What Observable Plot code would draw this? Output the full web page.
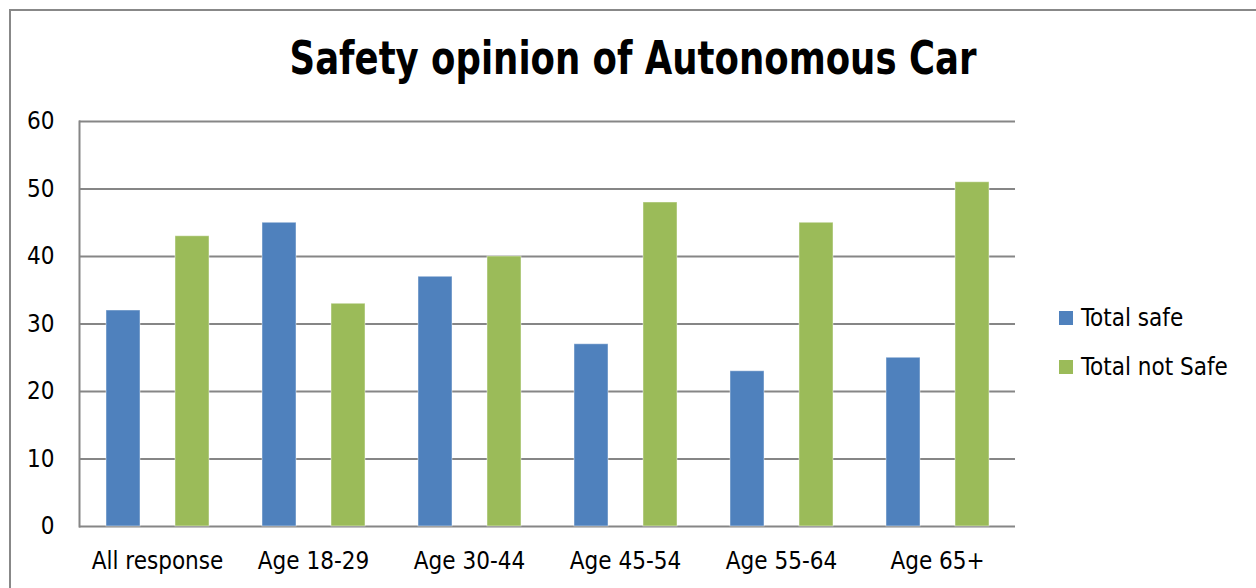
<!DOCTYPE html>
<html>
<head>
<meta charset="utf-8">
<script src="https://cdn.jsdelivr.net/npm/d3@7"></script>
<script src="https://cdn.jsdelivr.net/npm/@observablehq/plot@0.6"></script>
<style>
  html, body { margin: 0; padding: 0; background: #fff; }
  #wrap { position: relative; width: 1256px; height: 588px; overflow: hidden; font-family: "Liberation Sans Narrow", "DejaVu Sans Condensed", "Liberation Sans", sans-serif; }
  #frame { position: absolute; left: 9px; top: 9px; right: -5px; bottom: -5px; border-left: 2px solid #888; border-top: 2px solid #888; }
  #title { position: absolute; left: 0; width: 1266px; top: 30px; text-align: center; font-size: 47px; font-weight: bold; color: #000; transform: scaleX(0.84); transform-origin: 633px 0; }
  #legend { position: absolute; left: 1059px; top: 293px; font-size: 24px; color: #000; }
  .li { display: flex; align-items: center; height: 49px; }
  .sw { width: 14px; height: 14px; margin-right: 8px; }
  #chart { position: absolute; left: 0; top: 0; }
</style>
</head>
<body>
<div id="wrap">
  <div id="frame"></div>
  <div id="chart"></div>
  <div id="title">Safety opinion of Autonomous Car</div>
  <div id="legend"></div>
</div>
<script>
const categories = ["All response", "Age 18-29", "Age 30-44", "Age 45-54", "Age 55-64", "Age 65+"];
const seriesNames = ["Total safe", "Total not Safe"];
const totalSafe = [32, 45, 37, 27, 23, 25];
const totalNotSafe = [43, 33, 40, 48, 45, 51];
const colors = ["#4F81BD", "#9BBB59"];
const yTicks = [0, 10, 20, 30, 40, 50, 60];

const data = [];
categories.forEach((c, i) => {
  data.push({category: c, series: seriesNames[0], value: totalSafe[i]});
  data.push({category: c, series: seriesNames[1], value: totalNotSafe[i]});
});

const font = '"Liberation Sans Narrow", "DejaVu Sans Condensed", "Liberation Sans", sans-serif';

const chart = Plot.plot({
  width: 1256,
  height: 588,
  marginTop: 121,
  marginBottom: 62,
  marginLeft: 77,
  marginRight: 239,
  style: {fontFamily: font, fontSize: "24px", color: "#000", background: "transparent"},
  fx: {domain: categories, padding: 0, label: null, axis: null},
  x: {domain: seriesNames, paddingInner: 0.514, paddingOuter: 0.376, axis: null},
  y: {domain: [0, 60], label: null},
  color: {domain: seriesNames, range: colors},
  marks: [
    Plot.ruleY(yTicks, {stroke: "#868686", strokeWidth: 2}),
    Plot.barY(data, {fx: "category", x: "series", y: "value", fill: "series", stroke: "#ffffff", strokeOpacity: 0.45, strokeWidth: 1}),
    Plot.axisY({ticks: yTicks, tickSize: 0, tickPadding: 25, fontSize: 24, label: null}),
    Plot.axisFx({anchor: "bottom", tickSize: 0, tickPadding: 25, fontSize: 24, label: null}),
    Plot.frame({anchor: "left", stroke: "#868686", strokeWidth: 2, facetAnchor: "left"})
  ]
});
document.getElementById("chart").appendChild(chart);

const legend = document.getElementById("legend");
seriesNames.forEach((s, i) => {
  const row = document.createElement("div");
  row.className = "li";
  const sw = document.createElement("div");
  sw.className = "sw";
  sw.style.background = colors[i];
  const t = document.createElement("span");
  t.textContent = s;
  row.appendChild(sw);
  row.appendChild(t);
  legend.appendChild(row);
});
</script>
</body>
</html>
